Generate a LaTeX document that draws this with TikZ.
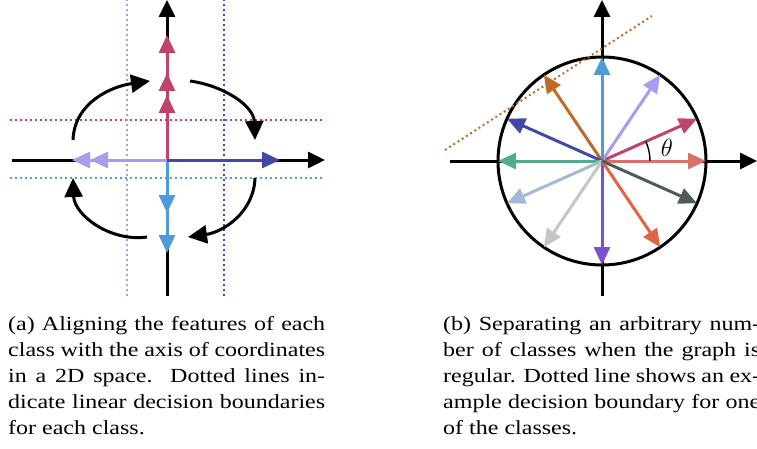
\documentclass[tikz,border=0pt]{standalone}
\usepackage{fontspec}
\setmainfont{Liberation Serif}[FakeStretch=1.2]
\usetikzlibrary{arrows.meta, positioning, calc}

\definecolor{csalmon}{HTML}{D9706E}
\definecolor{cred}{HTML}{C0446A}
\definecolor{clpurple}{HTML}{A99CF0}
\definecolor{cblue}{HTML}{4F9BD9}
\definecolor{cbrown}{HTML}{C06A2A}
\definecolor{cdblue}{HTML}{4049A6}
\definecolor{cgreen}{HTML}{52AB8A}
\definecolor{csteel}{HTML}{A4B9D9}
\definecolor{cgray}{HTML}{C8C5C0}
\definecolor{cpurple}{HTML}{7E50D0}
\definecolor{corange}{HTML}{E06540}
\definecolor{cslate}{HTML}{4F5A5A}

\begin{document}
\begin{tikzpicture}[
    x=1pt, y=1pt,
    axis/.style={line width=3pt, -{Triangle[length=17pt, width=16pt]}},
    vec/.style={line width=3pt, -{Triangle[length=18pt, width=16pt]}},
    bound/.style={line width=2pt, dash pattern=on 2pt off 3pt},
    turn/.style={line width=3pt, -{Triangle[length=19pt, width=18pt]}},
    caption/.style={anchor=base west, inner sep=0pt, text width=317pt, align=justify,
                    font=\fontsize{20}{26}\selectfont}
]
\useasboundingbox (0,0) rectangle (757,448);
\clip (0,0) rectangle (757,448);

% Left panel: axes
\coordinate (L) at (167,288);
\coordinate (Ltop) at (167,448);
\coordinate (Lbot) at (167,152);
\coordinate (Lleft) at (12,288);
\coordinate (Lright) at (325,288);
\draw[axis] (L) -- (Ltop);
\draw[axis] (L) -- (Lright);
\draw[line width=3pt] (L) -- (Lbot);
\draw[line width=3pt] (L) -- (Lleft);

% Left panel: decision boundaries
\draw[bound, cred] (10,328) -- (322,328);
\draw[bound, cblue] (10,270) -- (322,270);
\draw[bound, clpurple] (127,152) -- (127,448);
\draw[bound, cdblue] (224,152) -- (224,448);

% Left panel: class features
\foreach \d in {125,87,65} \draw[vec, cred] (L) -- ++(0,\d);
\foreach \d in {-93,-53} \draw[vec, cblue] (L) -- ++(0,\d);
\foreach \d in {-95,-77} \draw[vec, clpurple] (L) -- ++(\d,0);
\draw[vec, cdblue] (L) -- ++(113,0);

% Left panel: rotation arrows
\coordinate (tl1) at (73,308);
\coordinate (tl2) at (150,367);
\coordinate (tr1) at (190,367);
\coordinate (tr2) at (255,308);
\coordinate (br1) at (255,270);
\coordinate (br2) at (188,211);
\coordinate (bl1) at (147,211);
\coordinate (bl2) at (73,270);
\draw[turn] (tl1) to[out=88, in=188] (tl2);
\draw[turn] (tr1) to[out=-8, in=92] (tr2);
\draw[turn] (br1) to[out=-92, in=8] (br2);
\draw[turn] (bl1) to[out=188, in=-88] (bl2);

% Right panel: axes and circle
\coordinate (R) at (602,287);
\draw[axis] (450,287) -- (757,287);
\draw[axis] (602,152) -- (602,448);
\draw[line width=3pt] (R) circle (104);

% Right panel: class vectors
\foreach \a/\c in {0/csalmon, 24/cred, 56/clpurple, 90/cblue, 124/cbrown, 156/cdblue,
                   180/cgreen, 204/csteel, 236/cgray, 270/cpurple, 304/corange, 336/cslate}
    \draw[vec, \c] (R) -- ++(\a:104);

% Right panel: angle and boundary
\draw[line width=1.4pt] ($(R)+(48,0)$) arc (0:24:48);
\node[font=\fontsize{23}{26}\selectfont] (theta) at (667,300) {$\theta$};
\draw[bound, cbrown] (445,298) -- (652,432);

% Captions
\node[caption] (capa) at (8,118) {(a) Aligning the features of each\linebreak class with the axis of coordinates\linebreak in a 2D space.\ \ Dotted lines in-\linebreak dicate linear decision boundaries\linebreak for each class.};
\node[caption] (capb) at (443,118) {(b) Separating an arbitrary num-\linebreak ber of classes when the graph is\linebreak regular. Dotted line shows an ex-\linebreak ample decision boundary for one\linebreak of the classes.};

\end{tikzpicture}
\end{document}
